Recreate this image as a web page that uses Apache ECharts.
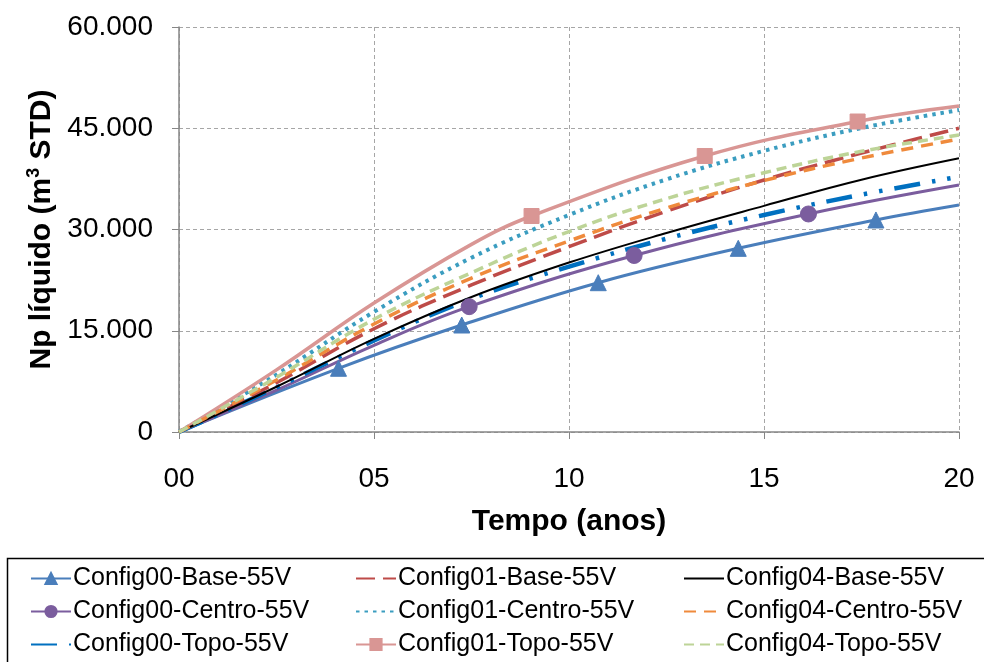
<!DOCTYPE html>
<html>
<head>
<meta charset="utf-8">
<script src="https://cdn.jsdelivr.net/npm/echarts@6/dist/echarts.min.js"></script>
<style>
html,body{margin:0;padding:0;background:#fff;}
#chart{width:984px;height:662px;}
</style>
</head>
<body>
<div id="chart"></div>
<script>
// ---- data ----
const seriesNames = [
  'Config00-Base-55V', 'Config00-Centro-55V', 'Config00-Topo-55V',
  'Config01-Base-55V', 'Config01-Centro-55V', 'Config01-Topo-55V',
  'Config04-Base-55V', 'Config04-Centro-55V', 'Config04-Topo-55V'
];
const xTickLabels = ['00', '05', '10', '15', '20'];
const yTickLabels = ['0', '15.000', '30.000', '45.000', '60.000'];

const years = [0, 2.5, 5, 7.5, 10, 12.5, 15, 17.5, 20];

const cfg00BaseYears   = [0, 4.09, 7.25, 10.75, 14.34, 17.87, 20];
const cfg00BaseValues  = [0, 9440, 15850, 22120, 27210, 31410, 33630];
const cfg00CentroYears = [0, 2.5, 5, 7.44, 11.67, 16.14, 20];
const cfg00CentroValues= [0, 6200, 12850, 18570, 26150, 32300, 36590];
const cfg00TopoValues  = [0, 6600, 13550, 19750, 24490, 28640, 32150, 35160, 37820];

const cfg01BaseValues  = [0, 7300, 15300, 21780, 27450, 32700, 37330, 41330, 45000];
const cfg01CentroValues= [0, 8500, 17800, 25820, 32150, 37430, 41650, 45040, 47700];
const cfg01TopoYears   = [0, 2.5, 5, 7.5, 9.04, 13.48, 17.4, 20];
const cfg01TopoValues  = [0, 9200, 19100, 27800, 32000, 40890, 46000, 48300];

const cfg04BaseValues  = [0, 6700, 13800, 20000, 25100, 29480, 33500, 37380, 40550];
const cfg04CentroValues= [0, 7700, 16000, 22810, 28300, 33190, 37250, 40590, 43400];
const cfg04TopoValues  = [0, 8100, 16700, 23600, 29700, 34570, 38400, 41580, 44000];

const cfg00BaseMarkers   = [4.09, 7.25, 10.75, 14.34, 17.87];
const cfg00CentroMarkers = [7.44, 11.67, 16.14];
const cfg01TopoMarkers   = [9.04, 13.48, 17.4];

// ---- build ----
function pts(xs, ys, marks) {
  return xs.map((x, i) => {
    const item = { value: [x, ys[i]] };
    if (!marks || marks.indexOf(x) < 0) item.symbol = 'none';
    return item;
  });
}

const FONT = 'Liberation Sans, Arial, sans-serif';

function mk(name, data, color, width, dash, symbol, cap, symbolSize) {
  return {
    name: name, type: 'line', data: data,
    smooth: 0.4,
    symbol: symbol || 'none', symbolSize: symbolSize || 14,
    showSymbol: true, showAllSymbol: true,
    itemStyle: { color: color, borderColor: color, borderWidth: 1 },
    lineStyle: { color: color, width: width, type: dash || 'solid', cap: cap || 'butt' },
    emphasis: { disabled: true },
    animation: false
  };
}

const series = [
  mk(seriesNames[0], pts(cfg00BaseYears, cfg00BaseValues, cfg00BaseMarkers), '#4A7EBB', 3, 'solid', 'triangle', 'butt', 16),
  mk(seriesNames[1], pts(cfg00CentroYears, cfg00CentroValues, cfg00CentroMarkers), '#7B5D9E', 3, 'solid', 'circle', 'butt', 16),
  mk(seriesNames[2], pts(years, cfg00TopoValues), '#0070C0', 4.5, [26, 12, 3.5, 12, 3.5, 12], null, 'butt'),
  mk(seriesNames[3], pts(years, cfg01BaseValues), '#BE4B48', 3.5, [19, 8], null, 'butt'),
  mk(seriesNames[4], pts(years, cfg01CentroValues), '#3B9DC0', 4, [3.5, 5], null, 'butt'),
  mk(seriesNames[5], pts(cfg01TopoYears, cfg01TopoValues, cfg01TopoMarkers), '#D99694', 3.5, 'solid', 'rect', 'butt', 15),
  mk(seriesNames[6], pts(years, cfg04BaseValues), '#000000', 2, 'solid', null, 'butt'),
  mk(seriesNames[7], pts(years, cfg04CentroValues), '#EF8A3C', 3.5, [12, 8], null, 'butt'),
  mk(seriesNames[8], pts(years, cfg04TopoValues), '#BDD497', 3.5, [10, 6], null, 'butt')
];

const withMarker = [seriesNames[0], seriesNames[1], seriesNames[5]];

function legendCol(left, names) {
  return {
    orient: 'vertical', left: left, top: 561, height: 140,
    itemWidth: 40, itemHeight: 14, itemGap: 8,
    data: names.map(n => withMarker.indexOf(n) >= 0 ? { name: n } : { name: n, itemStyle: { opacity: 0 } }),
    textStyle: { fontFamily: FONT, fontSize: 25, color: '#000', lineHeight: 25, padding: [0, 0, 0, -3] },
    selectedMode: false
  };
}

const chart = echarts.init(document.getElementById('chart'), null, { renderer: 'canvas' });
chart.setOption({
  backgroundColor: '#fff',
  animation: false,
  grid: { left: 179, right: 25, top: 27, bottom: 230, containLabel: false },
  xAxis: {
    type: 'value', min: 0, max: 20, interval: 5,
    name: 'Tempo (anos)', nameLocation: 'middle', nameGap: 75,
    nameTextStyle: { fontFamily: FONT, fontSize: 30, fontWeight: 'bold', color: '#000' },
    axisLine: { show: true, onZero: false, lineStyle: { color: '#868686', width: 1.5 } },
    axisTick: { show: true, length: 7, lineStyle: { color: '#868686' } },
    axisLabel: { fontFamily: FONT, fontSize: 28, color: '#000', margin: 33,
      formatter: v => xTickLabels[Math.round(v / 5)] },
    splitLine: { show: true, lineStyle: { color: '#A6A6A6', type: [4, 3], width: 1 } }
  },
  yAxis: {
    type: 'value', min: 0, max: 60000, interval: 15000,
    name: '{a|Np líquido (m}{s|3}{a| STD)}', nameLocation: 'middle', nameGap: 121, nameRotate: 90,
    nameTextStyle: { rich: {
      a: { fontFamily: FONT, fontSize: 30, fontWeight: 'bold', color: '#000', lineHeight: 32 },
      s: { fontFamily: FONT, fontSize: 18, fontWeight: 'bold', color: '#000', verticalAlign: 'top', lineHeight: 32 }
    } },
    axisLine: { show: true, lineStyle: { color: '#868686', width: 1.5 } },
    axisTick: { show: true, length: 7, lineStyle: { color: '#868686' } },
    axisLabel: { fontFamily: FONT, fontSize: 28, color: '#000', margin: 26,
      formatter: v => yTickLabels[Math.round(v / 15000)] },
    splitLine: { show: true, lineStyle: { color: '#A6A6A6', type: [4, 3], width: 1 } }
  },
  legend: [
    legendCol(25, seriesNames.slice(0, 3)),
    legendCol(350, seriesNames.slice(3, 6)),
    legendCol(678, seriesNames.slice(6, 9))
  ],
  graphic: [{
    type: 'rect', left: 5, top: 556, silent: true,
    shape: { width: 1000, height: 140 },
    style: { fill: 'none', stroke: '#000', lineWidth: 1.5 }
  }],
  series: series
});
</script>
</body>
</html>
